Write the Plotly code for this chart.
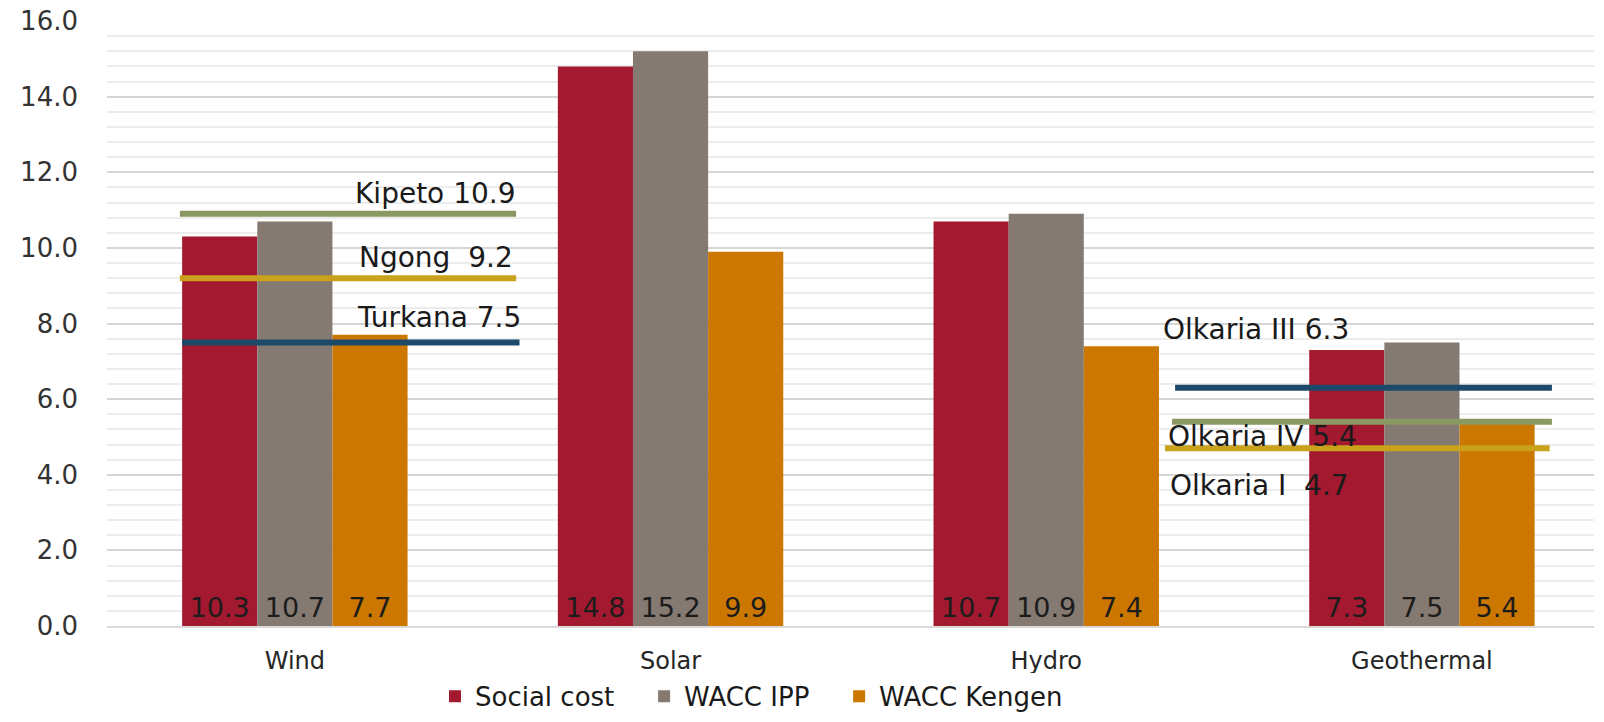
import plotly.graph_objects as go

# Levelised cost by technology (US cents/kWh)
technologies = ["Wind", "Solar", "Hydro", "Geothermal"]
social_cost = [10.3, 14.8, 10.7, 7.3]
wacc_ipp = [10.7, 15.2, 10.9, 7.5]
wacc_kengen = [7.7, 9.9, 7.4, 5.4]

# Reference tariffs of existing plants
wind_plants = ["Kipeto", "Ngong", "Turkana"]
wind_tariffs = [10.9, 9.2, 7.5]
wind_labels = ["Kipeto 10.9", "Ngong  9.2", "Turkana 7.5"]
geo_plants = ["Olkaria III", "Olkaria IV", "Olkaria I"]
geo_tariffs = [6.3, 5.4, 4.7]
geo_labels = ["Olkaria III 6.3", "Olkaria IV 5.4", "Olkaria I  4.7"]

y_ticks = [0, 2, 4, 6, 8, 10, 12, 14, 16]

FONT = "DejaVu Sans, Liberation Sans, Arial"
NBSP = "\u00a0"
positions = list(range(len(technologies)))

series = [
    ("Social cost" + NBSP * 3, social_cost, "#A3192F"),
    ("WACC IPP" + NBSP * 3, wacc_ipp, "#857A71"),
    ("WACC Kengen", wacc_kengen, "#CC7700"),
]

fig = go.Figure()
for name, vals, color in series:
    fig.add_trace(go.Bar(
        x=positions, y=vals, name=name, marker=dict(color=color, line=dict(width=0)),
        text=[f"{v:.1f}" for v in vals], textposition="inside",
        insidetextanchor="start", textangle=0,
        textfont=dict(family=FONT, size=27, color="#1c1c1c"),
        cliponaxis=False,
    ))

# Tariff benchmark lines: wind plants span the Wind group, geothermal plants the Geothermal group
wind_span = {"Kipeto": (-0.306, 0.589), "Ngong": (-0.306, 0.589), "Turkana": (-0.30, 0.598)}
geo_span = {"Olkaria III": (2.343, 3.346), "Olkaria IV": (2.335, 3.346), "Olkaria I": (2.316, 3.34)}
line_colors = {"Kipeto": "#8A9861", "Ngong": "#C9A11A", "Turkana": "#1D4A6B",
               "Olkaria III": "#1D4A6B", "Olkaria IV": "#8A9861", "Olkaria I": "#C9A11A"}

for plants, tariffs, spans in ((wind_plants, wind_tariffs, wind_span),
                               (geo_plants, geo_tariffs, geo_span)):
    for p, t in zip(plants, tariffs):
        x0, x1 = spans[p]
        fig.add_trace(go.Scatter(
            x=[x0, x1], y=[t, t], mode="lines", showlegend=False, hoverinfo="skip",
            line=dict(color=line_colors[p], width=6),
        ))

# Plant labels
wind_label_pos = [(0.155, 11.45), (0.165, 9.75), (0.16, 8.15)]
geo_label_pos = [(2.305, 7.85), (2.32, 5.0), (2.325, 3.72)]
for labels, pos in ((wind_labels, wind_label_pos), (geo_labels, geo_label_pos)):
    for lab, (lx, ly) in zip(labels, pos):
        fig.add_annotation(
            x=lx, y=ly, text=lab, showarrow=False, xanchor="left", yanchor="middle",
            font=dict(family=FONT, size=28, color="#1a1a1a"),
        )

fig.update_layout(
    width=1604, height=722,
    margin=dict(l=107, r=10, t=21, b=96, autoexpand=False),
    paper_bgcolor="white", plot_bgcolor="white",
    barmode="group", bargap=0.4, bargroupgap=0,
    showlegend=True,
    legend=dict(
        orientation="h", xref="container", yref="container",
        x=0.2712, xanchor="left", y=0.003, yanchor="bottom",
        font=dict(family=FONT, size=26, color="#1a1a1a"),
        itemclick=False, traceorder="normal",
    ),
    xaxis=dict(
        range=[-0.5, 3.458], tickvals=positions, ticktext=technologies,
        showgrid=False, zeroline=False, showline=True, linecolor="#d9d9d9", linewidth=1.5,
        tickfont=dict(family=FONT, size=24, color="#262626"),
        ticks="", ticklabelstandoff=12,
    ),
    yaxis=dict(
        range=[0, 16], tickvals=y_ticks, ticktext=[f"{v:.1f}" for v in y_ticks],
        showgrid=True, gridcolor="#d6d6d6", gridwidth=1.5, zeroline=False,
        tickfont=dict(family=FONT, size=26, color="#333333"),
        ticks="", ticklabelstandoff=28,
        minor=dict(dtick=0.4, showgrid=True, gridcolor="#ececec", gridwidth=1.5),
    ),
)

fig.write_html("out.html")
